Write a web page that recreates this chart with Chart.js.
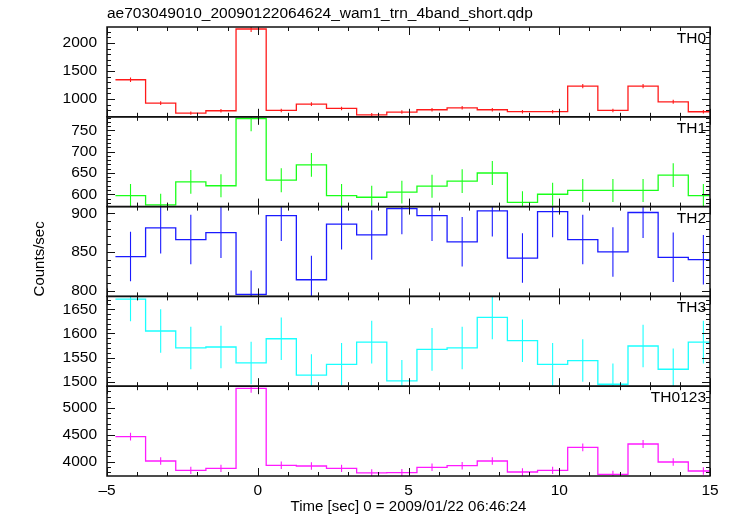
<!DOCTYPE html>
<html>
<head>
<meta charset="utf-8">
<script src="https://cdn.jsdelivr.net/npm/chart.js@4/dist/chart.umd.min.js"></script>
<style>
html, body { margin: 0; padding: 0; background: #fff; }
</style>
</head>
<body>
<canvas id="myChart" width="733" height="516"></canvas>
<script>
const plotTitle = 'ae703049010_20090122064624_wam1_trn_4band_short.qdp';
const timeLabel = 'Time [sec] 0 = 2009/01/22 06:46:24';
const yLabel = 'Counts/sec';

// bin centres (sec), 1 s bins
const binTimes = [-4.22, -3.22, -2.22, -1.22, -0.22, 0.78, 1.78, 2.78, 3.78, 4.78,
                  5.78, 6.78, 7.78, 8.78, 9.78, 10.78, 11.78, 12.78, 13.78, 14.78];
const binHalf = 0.5;

const th0 = [1345, 929, 750, 792, 2250, 798, 911, 833, 720, 768, 810, 845, 810, 776, 776, 1232, 798, 1232, 952, 774];
const th0Err = [40, 33, 30, 31, 52, 31, 33, 32, 30, 31, 31, 32, 31, 31, 31, 38, 31, 38, 34, 31];
const th1 = [597, 575, 629, 620, 778, 633, 669, 597, 593, 605, 619, 631, 650, 581, 600, 609, 609, 609, 645, 597];
const th1Err = [27, 26, 28, 27, 30, 28, 28, 27, 27, 27, 27, 28, 28, 26, 27, 27, 27, 27, 28, 27];
const th2 = [844, 881, 866, 875, 795, 897, 814, 886, 872, 906, 897, 863, 903, 842, 902, 866, 850, 901, 843, 840];
const th2Err = [32, 33, 32, 33, 31, 33, 31, 33, 32, 33, 33, 32, 33, 32, 33, 32, 32, 33, 32, 32];
const th3 = [1671, 1605, 1570, 1572, 1539, 1589, 1514, 1536, 1582, 1502, 1567, 1570, 1633, 1585, 1536, 1544, 1495, 1574, 1526, 1582];
const th3Err = [46, 45, 44, 44, 44, 44, 43, 44, 44, 43, 44, 44, 45, 44, 44, 44, 43, 44, 43, 44];
const th0123 = [4463, 4013, 3840, 3877, 5358, 3933, 3920, 3877, 3791, 3797, 3896, 3926, 4013, 3809, 3840, 4266, 3766, 4327, 3994, 3828];
const th0123Err = [73, 70, 68, 68, 80, 69, 69, 68, 68, 68, 69, 69, 70, 68, 68, 72, 67, 72, 70, 68];

const panelNames = ['TH0', 'TH1', 'TH2', 'TH3', 'TH0123'];
const panelValues = [th0, th1, th2, th3, th0123];
const panelErrors = [th0Err, th1Err, th2Err, th3Err, th0123Err];
const panelMin = [684, 571, 792.5, 1491, 3735];
const panelMax = [2286, 782, 908.6, 1676.5, 5397];
const panelTicks = [[1000, 1500, 2000], [600, 650, 700, 750], [800, 850, 900], [1500, 1550, 1600, 1650], [4000, 4500, 5000]];
const panelMinor = [100, 10, 10, 10, 100];
const timeTicks = [-5, 0, 5, 10, 15];

const panelColors = ['#ff1a1a', '#1aff1a', '#1a1aff', '#1affff', '#ff1aff'];
const fontFamily = '"Liberation Sans", Arial, Helvetica, sans-serif';

Chart.defaults.font.family = fontFamily;
Chart.defaults.font.size = 15.5;
Chart.defaults.color = '#000';

function stepPoints(vals) {
    const pts = vals.map((v, i) => ({ x: binTimes[i] - binHalf, y: v }));
    const last = vals.length - 1;
    pts.push({ x: binTimes[last] + binHalf, y: vals[last] });
    return pts;
}

function errorPoints(vals, errs) {
    const pts = [];
    vals.forEach((v, i) => {
        pts.push({ x: binTimes[i], y: v - errs[i] });
        pts.push({ x: binTimes[i], y: v + errs[i] });
        pts.push({ x: binTimes[i], y: null });
    });
    return pts;
}

const datasets = [];
const scales = {
    x: {
        type: 'linear',
        position: 'bottom',
        min: -5,
        max: 15,
        afterBuildTicks: s => { s.ticks = timeTicks.map(v => ({ value: v })); },
        afterFit: s => { s.height = 40; },
        grid: { display: false, drawTicks: false },
        border: { display: false },
        ticks: {
            padding: 5,
            autoSkip: false,
            callback: v => (v < 0 ? '\u2013' + Math.abs(v) : String(v))
        },
        title: { display: true, text: timeLabel, font: { size: 15 }, padding: { top: 0, bottom: 0 } }
    },
    xTop: {
        type: 'linear',
        position: 'top',
        min: -5,
        max: 15,
        afterFit: s => { s.height = 27; },
        grid: { display: false, drawTicks: false },
        border: { display: false },
        ticks: { display: false },
        title: { display: true, text: plotTitle, align: 'start', padding: { top: 4, bottom: 0 } }
    }
};

panelNames.forEach((name, i) => {
    const yId = 'y' + i;
    datasets.push({
        label: name,
        data: stepPoints(panelValues[i]),
        xAxisID: 'x',
        yAxisID: yId,
        stepped: 'before',
        borderColor: panelColors[i],
        borderWidth: 1.3,
        pointRadius: 0,
        fill: false
    });
    datasets.push({
        label: name + ' err',
        data: errorPoints(panelValues[i], panelErrors[i]),
        xAxisID: 'x',
        yAxisID: yId,
        spanGaps: false,
        borderColor: panelColors[i],
        borderWidth: 1.1,
        pointRadius: 0,
        fill: false
    });
});

// stacked left axes are laid out last-defined on top, so add them bottom panel first
for (let i = panelNames.length - 1; i >= 0; i--) {
    scales['y' + i] = {
        type: 'linear',
        position: 'left',
        stack: 'qdp',
        stackWeight: 1,
        min: panelMin[i],
        max: panelMax[i],
        afterBuildTicks: s => { s.ticks = panelTicks[i].map(v => ({ value: v })); },
        afterFit: s => { s.width = 107; },
        grid: { display: false, drawTicks: false },
        border: { display: false },
        ticks: { padding: 10, autoSkip: false, callback: v => String(v) },
        title: {
            display: panelNames[i] === 'TH2',
            text: yLabel,
            align: 'start',
            font: { size: 15 },
            padding: { top: 31, bottom: 0 }
        }
    };
}

// panel frames, inward tick marks and panel names
const qdpFrame = {
    id: 'qdpFrame',
    afterDatasetsDraw(chart) {
        const ctx = chart.ctx;
        const xs = chart.scales.x;
        const left = xs.left, right = xs.right;
        ctx.save();
        panelNames.forEach((name, i) => {
            const ys = chart.scales['y' + i];
            const top = ys.top, bottom = ys.bottom;
            ctx.strokeStyle = '#111';
            ctx.lineWidth = 1;
            ctx.beginPath();
            for (let t = Math.ceil(xs.min); t <= xs.max; t++) {
                const px = Math.round(xs.getPixelForValue(t)) + 0.5;
                const len = t % 5 === 0 ? 8 : 4;
                ctx.moveTo(px, top); ctx.lineTo(px, top + len);
                ctx.moveTo(px, bottom); ctx.lineTo(px, bottom - len);
            }
            const step = panelMinor[i];
            for (let v = Math.ceil(ys.min / step) * step; v <= ys.max; v += step) {
                const py = Math.round(ys.getPixelForValue(v)) + 0.5;
                const len = panelTicks[i].includes(v) ? 8 : 4;
                ctx.moveTo(left, py); ctx.lineTo(left + len, py);
                ctx.moveTo(right, py); ctx.lineTo(right - len, py);
            }
            ctx.stroke();
            ctx.lineWidth = 1.5;
            ctx.strokeRect(left, top, right - left, bottom - top);
            ctx.fillStyle = '#000';
            ctx.font = '15.5px ' + fontFamily;
            ctx.textAlign = 'right';
            ctx.textBaseline = 'top';
            ctx.fillText(name, right - 4, top + 4);
        });
        ctx.restore();
    }
};

new Chart(document.getElementById('myChart').getContext('2d'), {
    type: 'line',
    data: { datasets: datasets },
    options: {
        responsive: false,
        animation: false,
        devicePixelRatio: 1,
        layout: { padding: { left: 0, right: 23, top: 0, bottom: 0 } },
        plugins: {
            legend: { display: false },
            tooltip: { enabled: false }
        },
        scales: scales
    },
    plugins: [qdpFrame]
});
</script>
</body>
</html>
